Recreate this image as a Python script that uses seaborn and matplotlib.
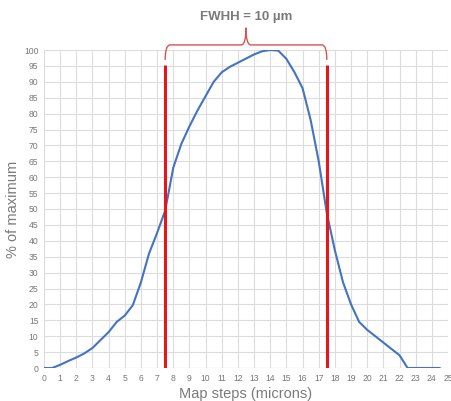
import matplotlib
matplotlib.use("Agg")
import matplotlib.pyplot as plt
import seaborn as sns
import pandas as pd
from matplotlib.path import Path
from matplotlib.patches import PathPatch

steps = [0, 0.5, 1, 1.5, 2, 2.5, 3, 3.5, 4, 4.5, 5, 5.5, 6, 6.5, 7, 7.5, 8, 8.5, 9, 9.5,
         10, 10.5, 11, 11.5, 12, 12.5, 13, 13.5, 14, 14.5, 15, 15.5, 16, 16.5, 17, 17.5,
         18, 18.5, 19, 19.5, 20, 20.5, 21, 21.5, 22, 22.5, 23, 23.5, 24, 24.5]
pct_max = [0, 0, 1, 2.2, 3.3, 4.6, 6.3, 8.8, 11.3, 14.5, 16.5, 19.8, 27, 36, 42.5, 49.5,
           63, 70.5, 76, 81, 85.5, 90, 93, 94.7, 96, 97.3, 98.6, 99.6, 100, 99.8, 97.2,
           93, 88, 78, 65, 48.7, 37, 27, 20, 14.5, 12, 10, 8, 6, 4, 0, 0, 0, 0, 0]
fwhh_edges = [7.5, 17.5]
title_text = "FWHH = 10 µm"
x_ticks = list(range(0, 26))
y_ticks = list(range(0, 101, 5))

df = pd.DataFrame({"x": steps, "y": pct_max})

sns.set_theme(style="whitegrid")
plt.rcParams['font.family'] = ['Liberation Sans', 'DejaVu Sans']

fig = plt.figure(figsize=(4.51, 4.01), dpi=100)
ax = fig.add_axes([44/451, 33/401, 404/451, 318/401])

sns.lineplot(data=df, x="x", y="y", ax=ax, color="#4472C4", linewidth=1.5)

for xe in fwhh_edges:
    ax.plot([xe, xe], [0, 95.3], color="#e8161b", linewidth=2.2, solid_capstyle="butt")

# curly brace
x0, x1 = fwhh_edges
xm = (x0 + x1) / 2
yb = 101.6
verts = [(x0, 96.9), (x0, yb), (x0 + 0.3, yb), (xm - 0.3, yb), (xm, yb), (xm, 107),
         (xm, 107), (xm, yb), (xm + 0.3, yb), (x1 - 0.3, yb), (x1, yb), (x1, 96.9)]
pcodes = [Path.MOVETO, Path.CURVE3, Path.CURVE3, Path.LINETO, Path.CURVE3, Path.CURVE3,
          Path.MOVETO, Path.CURVE3, Path.CURVE3, Path.LINETO, Path.CURVE3, Path.CURVE3]
patch = PathPatch(Path(verts, pcodes), facecolor="none", edgecolor="#d9534f",
                  linewidth=1.0, clip_on=False)
ax.add_patch(patch)

ax.set_xlim(0, 25)
ax.set_ylim(0, 100)
ax.set_xticks(x_ticks)
ax.set_yticks(y_ticks)
ax.tick_params(axis="both", labelsize=6.2, colors="#777777", length=0, pad=4)
ax.grid(True, color="#dcdcdc", linewidth=0.8)
for s in ax.spines.values():
    s.set_visible(False)
ax.axhline(0, color="#cfcfcf", linewidth=0.8, zorder=0)

ax.set_xlabel("Map steps (microns)", fontsize=10.5, color="#7a7a7a", labelpad=3)
ax.set_ylabel("% of maximum", fontsize=10.5, color="#7a7a7a", labelpad=3)

fig.text(246/451, 1 - 17/401, title_text, ha="center", va="center",
         fontsize=9.5, fontweight="bold", color="#7a7a7a")

fig.savefig("out.png", dpi=100, facecolor="white")
